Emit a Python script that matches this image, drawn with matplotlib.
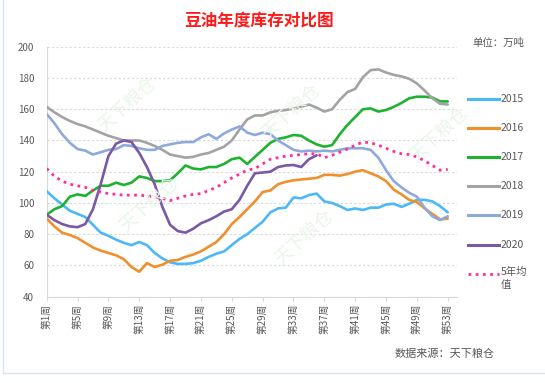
import matplotlib
matplotlib.use("Agg")
import matplotlib.pyplot as plt
from matplotlib.lines import Line2D

plt.rcParams['font.family'] = ['Noto Sans CJK SC', 'DejaVu Sans']

# weekly soybean oil stocks (10k tonnes)
weeks = list(range(1, 54))
tick_weeks = list(range(1, 54, 4))
tick_labels = [f"第{w}周" for w in tick_weeks]

s2015 = [107.5, 103, 99, 95, 93, 91, 86, 81, 79, 76.5,
         74.5, 73, 75, 73, 68, 64.5, 62, 61, 61, 61.5,
         63, 65.5, 67.5, 69, 73, 77, 80, 84, 88, 94,
         96.5, 97, 103.5, 103, 105, 106, 101, 100, 98, 95.5,
         96.5, 95.5, 97, 97, 99, 99.5, 97.5, 99.5, 102, 102,
         101, 98, 94]
s2016 = [90, 85, 81, 79.5, 77.5, 74.5, 71.5, 69.5, 68, 66.5,
         64, 59, 56, 61.5, 59, 60.5, 63, 63.5, 65.5, 67,
         69, 72, 75, 80, 86.5, 91, 96, 101, 107, 108,
         112, 113.5, 114.5, 115, 115.5, 116, 118, 118, 117.5, 118.5,
         120, 121, 119, 117, 114, 108.5, 105.5, 102, 100.5, 96.5,
         93, 89.5, 90]
s2017 = [92.5, 96, 98, 104, 105.5, 104.5, 108, 111, 111, 113,
         111.5, 113, 117, 116, 114, 114, 114.5, 119, 124, 122,
         121.5, 123, 123, 125, 128, 129, 125, 129.5, 134, 138.5,
         141, 142, 143.5, 143, 140, 137.5, 136, 137, 144, 150,
         155, 160, 160.5, 158.5, 159.5, 161.5, 164, 167, 168, 168,
         167.5, 165, 165]
s2018 = [161.5, 158, 155, 152.5, 150.5, 149, 147, 145, 143, 141.5,
         140, 140, 140, 138.5, 136.5, 134, 131, 130, 129, 129.5,
         131, 132, 134, 136, 140, 147, 153.5, 156, 156, 158,
         159, 159.5, 160.5, 161.5, 163, 161, 158.5, 160, 166, 171,
         173, 180.5, 185, 185.5, 183.5, 182, 181, 179.5, 176.5, 172,
         167, 163.5, 163]
s2019 = [157, 151, 144, 138.5, 134.5, 133.5, 131, 132.5, 134, 134.5,
         137, 136.5, 135, 134, 134, 136.5, 137.5, 138.5, 139, 139,
         142, 144, 141, 144.5, 147, 149, 145, 143.5, 145, 144,
         140, 137, 134, 133, 133.5, 133, 133.5, 133, 134, 135,
         135, 135, 134, 129, 121, 114, 110, 106.5, 104, 97,
         91.5, 89, 91.5]
s2020 = [92.5, 89, 86.5, 85, 84.5, 86.5, 96, 112, 130, 138,
         140, 139, 132, 123, 112, 97.5, 86, 82, 81, 83.5,
         87, 89, 91.5, 94.5, 96, 102, 111, 119, 119.5, 120,
         123, 124, 124.3, 123, 128, 130.5]
avg5 = [122, 117, 114, 112, 111, 110, 108, 107, 106, 105.5,
        105, 105, 105, 104.5, 104, 103, 101.5, 103, 104.5, 105.5,
        106, 108, 110, 113, 116, 118.5, 121, 122, 125, 128,
        129, 130, 130.5, 131, 131.5, 131.5, 129, 130.5, 132.5, 134.5,
        137, 139, 138.5, 137, 135, 133, 131.5, 131, 129.5, 127,
        124, 121, 121.5]

series = [("2015", s2015, "#4db8f8"),
          ("2016", s2016, "#f0902c"),
          ("2017", s2017, "#1eb22f"),
          ("2018", s2018, "#a3a3a3"),
          ("2019", s2019, "#8eaadc"),
          ("2020", s2020, "#7a58a6")]
avg_label = "5年均\n值"
avg_color = "#ff2f97"

fig = plt.figure(figsize=(5.45, 3.83), dpi=100)
ax = fig.add_axes([0.0857, 0.2253, 0.7528, 0.6527])

# faint watermarks
for (x, y) in [(128, 105), (150, 205), (292, 112), (305, 238), (440, 135)]:
    fig.text(x / 545, 1 - y / 383, "天下粮仓", rotation=42, fontsize=13,
             color="#e9f5e9", ha="center", va="center", zorder=0)

for name, vals, color in series:
    ax.plot(weeks[:len(vals)], vals, color=color, lw=1.9,
            solid_joinstyle="round", solid_capstyle="round", zorder=3)
ax.plot(weeks, avg5, color=avg_color, lw=2.0, linestyle=(0, (1, 1.6)),
        dash_capstyle="butt", zorder=3)

ax.set_xlim(1, 54.2)
ax.set_ylim(40, 200)
ax.set_yticks(range(40, 201, 20))
ax.set_xticks(tick_weeks)
ax.set_xticklabels(tick_labels, rotation=90, fontsize=7, color="#595959")
ax.tick_params(axis="y", length=0, pad=9, labelsize=7, labelcolor="#595959")
ax.tick_params(axis="x", length=3, width=0.8, color="#d9d9d9", pad=2)
for lab in ax.get_xticklabels():
    lab.set_va("top")
    lab.set_ha("center")

ax.grid(axis="y", color="#d9d9d9", lw=0.8, linestyle=(0, (2, 2)))
ax.set_axisbelow(True)
for side in ["top", "right"]:
    ax.spines[side].set_visible(False)
for side in ["left", "bottom"]:
    ax.spines[side].set_color("#d9d9d9")
    ax.spines[side].set_linewidth(0.8)

fig.text(0.475, 0.947, "豆油年度库存对比图", color="#ff1a1a", fontsize=12,
         fontweight="bold", ha="center", va="center")
fig.text(0.915, 0.887, "单位：万吨", color="#595959", fontsize=7.5,
         ha="center", va="center")

# legend on the right
ys = [99, 128, 157, 186, 215, 245]
for (name, vals, color), y in zip(series, ys):
    fy = 1 - y / 383
    fig.add_artist(Line2D([468 / 545, 499 / 545], [fy, fy], color=color, lw=2.2,
                          transform=fig.transFigure))
    fig.text(501 / 545, fy, name, fontsize=7.5, color="#595959",
             ha="left", va="center")
fy = 1 - 274 / 383
fig.add_artist(Line2D([468 / 545, 499 / 545], [fy, fy], color=avg_color, lw=2.0,
                      linestyle=(0, (1, 1.6)), transform=fig.transFigure))
fig.text(501 / 545, 1 - 267 / 383, avg_label, fontsize=7.5, color="#595959",
         ha="left", va="top", linespacing=1.35)

fig.text(0.815, 0.076, "数据来源：天下粮仓", fontsize=8, color="#595959",
         ha="center", va="center", style="italic")

# chart area border
fig.add_artist(Line2D([0.006, 0.006], [0.026, 1], color="#dbe3ee", lw=1,
                      transform=fig.transFigure))
fig.add_artist(Line2D([0.006, 1], [0.026, 0.026], color="#dbe3ee", lw=1,
                      transform=fig.transFigure))

fig.savefig("out.png", dpi=100)
